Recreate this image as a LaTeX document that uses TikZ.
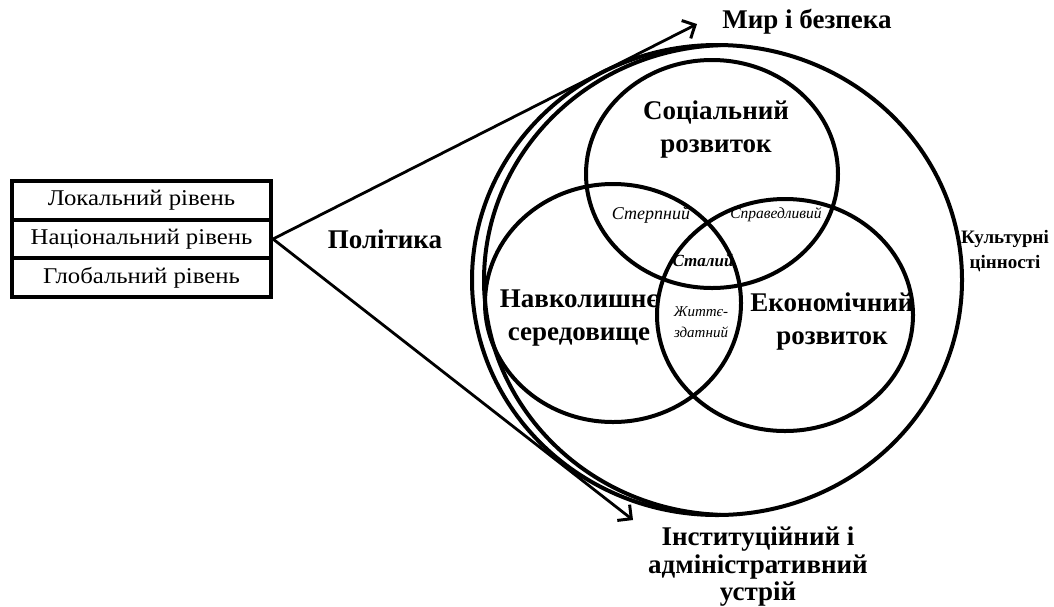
\documentclass[tikz,border=0pt]{standalone}
\usepackage{fontspec}
\setmainfont{Liberation Serif}
\newfontfamily\boxfont[FakeStretch=1.1]{Liberation Serif}
\usetikzlibrary{arrows.meta,shapes.geometric}
\begin{document}
\begin{tikzpicture}[x=1pt,y=-1pt,
  lvlbox/.style={draw, line width=4pt, minimum width=259pt, minimum height=38.5pt, inner sep=0pt, font=\boxfont\fontsize{22.5}{26}\selectfont},
  ring/.style={draw, line width=4pt, ellipse, inner sep=0pt},
  bigtxt/.style={font=\bfseries\fontsize{27}{33}\selectfont, align=center, inner sep=0pt},
  smalltxt/.style={font=\itshape\fontsize{18}{21}\selectfont, align=center, inner sep=0pt},
  polarrow/.style={line width=2.8pt, -{Straight Barb[length=10pt,width=20pt,line width=3pt]}}
]
\useasboundingbox (0,0) rectangle (1054,606);
% level boxes
\node[lvlbox] (loc)  at (141.5,200.5) {Локальний рівень};
\node[lvlbox] (nat)  at (141.5,239)   {Національний рівень};
\node[lvlbox] (glob) at (141.5,277.5) {Глобальний рівень};
% outer ring and inner arc
\node[ring, minimum width=490pt, minimum height=470pt] (outer) at (717,280) {};
\draw[line width=4pt] (729,280) ++(268:245pt and 235pt) arc[start angle=268, end angle=92, x radius=245pt, y radius=235pt];
% three circles
\node[ring, minimum width=252pt, minimum height=228pt] (soc) at (712,174) {};
\node[ring, minimum width=256pt, minimum height=238pt] (env) at (613,303) {};
\node[ring, minimum width=256pt, minimum height=232pt] (eco) at (785,315) {};
% labels
\node[bigtxt] (soct) at (716,130) {Соціальний\\розвиток};
\node[bigtxt] (envt) at (579,318) {Навколишнє\\середовище};
\node[bigtxt] (ecot) at (832,321) {Економічний\\розвиток};
\node[bigtxt] (pol)  at (385,239) {Політика};
\node[bigtxt] (peace) at (807,22) {Мир і безпека};
\node[bigtxt, font=\bfseries\fontsize{27}{27.5}\selectfont] (inst) at (758,567) {Інституційний і\\адміністративний\\устрій};
\node[bigtxt, font=\bfseries\fontsize{19}{25}\selectfont] (cult) at (1005,251) {Культурні\\цінності};
\node[smalltxt] (bear) at (651,215) {Стерпний};
\node[smalltxt, font=\itshape\fontsize{15.5}{18}\selectfont] (equit) at (776,215) {Справедливий};
\node[smalltxt, font=\bfseries\itshape\fontsize{17}{20}\selectfont] (sust) at (703,260) {Сталий};
\node[smalltxt, font=\itshape\fontsize{15}{21}\selectfont] (viab) at (701,322) {Життє-\\здатний};
% arrows
\coordinate (tipA) at (697,24);
\coordinate (tipB) at (633,520);
\draw[polarrow] (nat.east) -- (tipA);
\draw[polarrow] (nat.east) -- (tipB);
\end{tikzpicture}
\end{document}
